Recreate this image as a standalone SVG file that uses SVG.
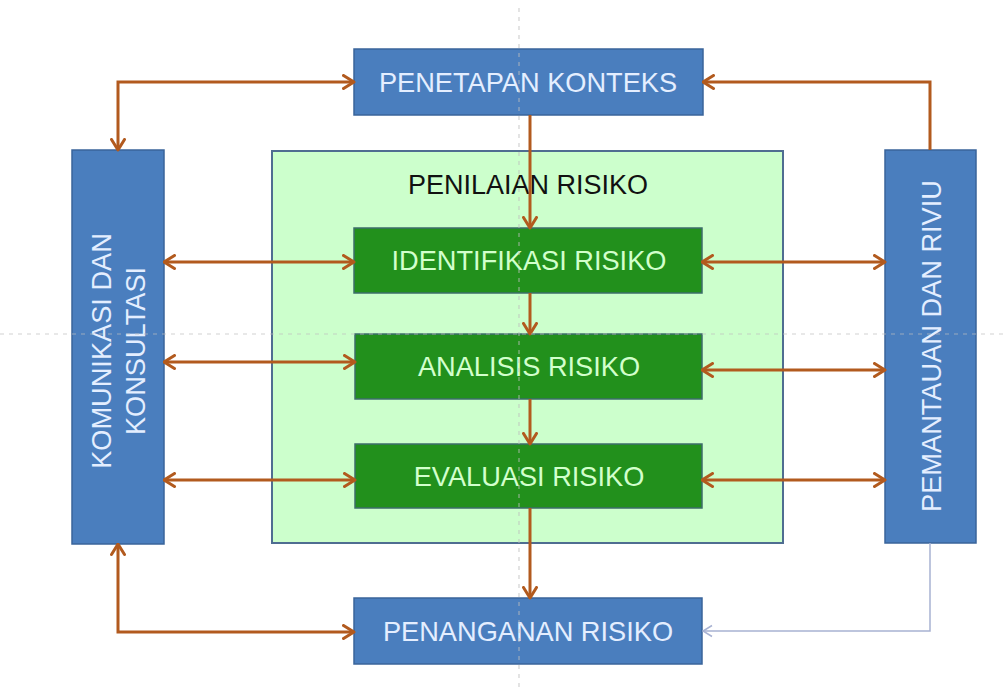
<svg xmlns="http://www.w3.org/2000/svg" width="1003" height="687" viewBox="0 0 1003 687">
<style>
.blue{fill:#4A7EBE;stroke:#3A649A;stroke-width:1.5}
.green{fill:#22901C;stroke:#3C6E6A;stroke-width:1.5}
.panel{fill:#CCFFCC;stroke:#4F6D91;stroke-width:2}
.tb{font-family:"Liberation Sans",Arial,sans-serif;font-size:27.2px;fill:#E4EEFF;text-anchor:middle}
.tg{font-family:"Liberation Sans",Arial,sans-serif;font-size:27.2px;fill:#D2FFCC;text-anchor:middle}
.tk{font-family:"Liberation Sans",Arial,sans-serif;font-size:27px;fill:#111111;text-anchor:middle}
.arr{fill:none;stroke:#B25A1E;stroke-width:3;marker-end:url(#ah)}
.arr2{fill:none;stroke:#B25A1E;stroke-width:3;marker-start:url(#ah);marker-end:url(#ah)}
.thin{fill:none;stroke:#A8B2D2;stroke-width:1.5;marker-end:url(#ahs)}
.guide{fill:none;stroke:#BDBDBD;stroke-width:1.2;stroke-dasharray:4 5;opacity:0.7}
</style>
<defs>
<marker id="ah" viewBox="0 0 14 16" refX="12.5" refY="8" markerWidth="14" markerHeight="16" markerUnits="userSpaceOnUse" orient="auto-start-reverse">
<path d="M2,1.5 L12.5,8 L2,14.5" fill="none" stroke="#B25A1E" stroke-width="3" stroke-linecap="round" stroke-linejoin="round"/>
</marker>
<marker id="ahs" viewBox="0 0 12 14" refX="11" refY="7" markerWidth="12" markerHeight="14" markerUnits="userSpaceOnUse" orient="auto">
<path d="M2,1.5 L11,7 L2,12.5" fill="none" stroke="#A8B2D2" stroke-width="1.5"/>
</marker>
</defs>
<rect width="1003" height="687" fill="#FFFFFF"/>
<g id="penilaian-risiko">
<rect class="panel" x="272" y="151" width="511" height="392"/>
<text class="tk" x="528" y="194">PENILAIAN RISIKO</text>
</g>
<g id="penetapan-konteks">
<rect class="blue" x="354" y="49" width="349" height="66"/>
<text class="tb" x="528" y="92">PENETAPAN KONTEKS</text>
</g>
<g id="komunikasi">
<rect class="blue" x="72" y="150" width="92" height="394"/>
<g transform="translate(118,351) rotate(-90)">
<text class="tb" x="0" y="-7">KOMUNIKASI DAN</text>
<text class="tb" x="0" y="27">KONSULTASI</text>
</g>
</g>
<g id="pemantauan">
<rect class="blue" x="885" y="150" width="91" height="393"/>
<text class="tb" transform="translate(941,346) rotate(-90)" x="0" y="0">PEMANTAUAN DAN RIVIU</text>
</g>
<g id="identifikasi">
<rect class="green" x="354" y="228" width="348" height="65"/>
<text class="tg" x="529" y="270">IDENTIFIKASI RISIKO</text>
</g>
<g id="analisis">
<rect class="green" x="355" y="334" width="347" height="65"/>
<text class="tg" x="529" y="376">ANALISIS RISIKO</text>
</g>
<g id="evaluasi">
<rect class="green" x="355" y="444" width="347" height="64"/>
<text class="tg" x="529" y="486">EVALUASI RISIKO</text>
</g>
<g id="penanganan">
<rect class="blue" x="354" y="598" width="348" height="66"/>
<text class="tb" x="528" y="641">PENANGANAN RISIKO</text>
</g>
<g id="connectors">
<path class="arr2" d="M118,150 L118,82 L354,82"/>
<path class="arr" d="M930,150 L930,82 L703,82"/>
<path class="arr" d="M530,115 L530,228"/>
<path class="arr" d="M530,293 L530,334"/>
<path class="arr" d="M530,399 L530,444"/>
<path class="arr" d="M530,508 L530,598"/>
<path class="arr2" d="M164,262 L354,262"/>
<path class="arr2" d="M164,362 L355,362"/>
<path class="arr2" d="M164,480 L355,480"/>
<path class="arr2" d="M702,262 L885,262"/>
<path class="arr2" d="M702,370 L885,370"/>
<path class="arr2" d="M702,480 L885,480"/>
<path class="arr2" d="M118,544 L118,632 L354,632"/>
<path class="thin" d="M930,543 L930,631 L703,631"/>
</g>
<g id="guides">
<path class="guide" d="M519,8 L519,687"/>
<path class="guide" d="M0,334 L1003,334"/>
</g>
</svg>
